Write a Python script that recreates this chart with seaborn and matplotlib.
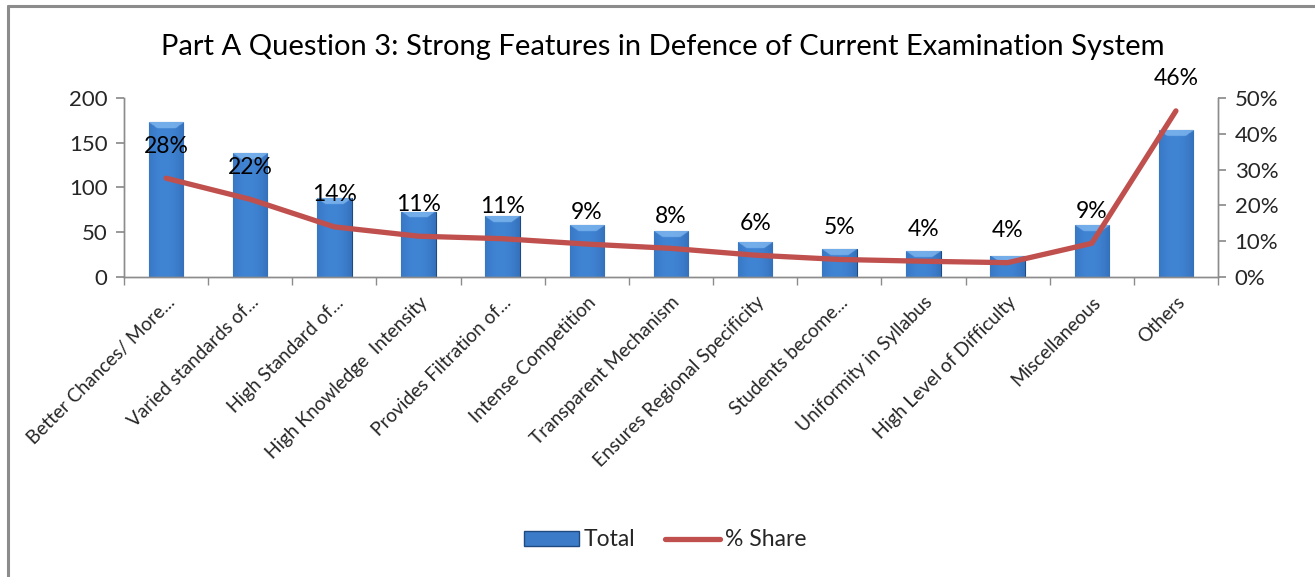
import numpy as np
import pandas as pd
import seaborn as sns
import matplotlib
matplotlib.use("Agg")
import matplotlib.pyplot as plt
from matplotlib.lines import Line2D
from matplotlib.patches import Patch
import matplotlib.ticker as mticker

categories = ["Better Chances/ More...", "Varied standards of...", "High Standard of...",
              "High Knowledge  Intensity", "Provides Filtration of...", "Intense Competition",
              "Transparent Mechanism", "Ensures Regional Specificity", "Students become...",
              "Uniformity in Syllabus", "High Level of Difficulty", "Miscellaneous", "Others"]
totals = [173, 138, 88, 73, 68, 58, 51, 39, 31, 29, 24, 58, 164]
share = [0.276, 0.217, 0.14, 0.114, 0.107, 0.092, 0.08, 0.061, 0.049, 0.044, 0.04, 0.094, 0.464]
left_ticks = [0, 50, 100, 150, 200]
right_ticks = [0, 0.1, 0.2, 0.3, 0.4, 0.5]
title = "Part A Question 3: Strong Features in Defence of Current Examination System"

sns.set_theme(style="white")
plt.rcParams['font.family'] = ['Lato', 'DejaVu Sans']

df = pd.DataFrame({"cat": categories, "total": totals, "share": share})
df["pos"] = np.arange(len(df))

W, H, DPI = 1315, 577, 100
fig = plt.figure(figsize=(W / DPI, H / DPI), dpi=DPI)
ax = fig.add_axes([124 / W, 1 - 277 / H, (1218 - 124) / W, (277 - 98) / H])

sns.barplot(data=df, x="cat", y="total", ax=ax, color="#3C7BC8", width=0.41,
            edgecolor="#1F4A80", linewidth=0.8, saturation=1, zorder=2)

# gradient / bevel look for bars
gray = "#8C8C8C"
for p, v in zip(ax.patches, totals):
    x0, y0 = p.get_x(), p.get_y()
    w, h = p.get_width(), p.get_height()
    ncol = 60
    nrow = 300
    xs = np.linspace(0, 1, ncol)
    shade = 1 - 1.6 * (xs - 0.45) ** 2
    dark = np.array([0x1C, 0x48, 0x86]) / 255
    mid = np.array([0x40, 0x84, 0xD4]) / 255
    row = dark[None, :] + (mid - dark)[None, :] * np.clip(shade, 0, 1)[:, None] ** 0.6
    img = np.repeat(row[None, :, :], nrow, axis=0)
    barpx = v * 179 / 200
    band = max(1, int(round(nrow * 6 / barpx)))
    light = np.array([0x8A, 0xC0, 0xF4]) / 255
    # trapezoid bevel at the top
    for r in range(band):
        inset = int(round((r / band) * ncol * 0.25))
        img[r, inset:ncol - inset, :] = img[r, inset:ncol - inset, :] * 0.3 + light * 0.7
    im = ax.imshow(img, extent=[x0, x0 + w, y0, y0 + h], aspect="auto",
                   origin="upper", zorder=2.5, interpolation="bilinear")
    im.set_clip_path(p)

ax.set_xlim(-0.5, len(categories) - 0.5)
ax.set_ylim(0, 200)
ax.set_yticks(left_ticks)
ax.set_xlabel("")
ax.set_ylabel("")

ax2 = ax.twinx()
sns.lineplot(x=df["pos"], y=df["share"], ax=ax2, color="#C0504D", linewidth=3.8,
             zorder=3, legend=False)
ax2.set_ylim(0, 0.5)
ax2.set_yticks(right_ticks)
ax2.yaxis.set_major_formatter(mticker.PercentFormatter(1.0, decimals=0))
ax2.set_xlim(-0.5, len(categories) - 0.5)
ax2.set_ylabel("")
ax2.set_xlabel("")

for x, s in zip(df["pos"], df["share"]):
    ax2.annotate(f"{s:.0%}", (x, s), xytext=(0, 23), textcoords="offset points",
                 ha="center", va="center", fontsize=16.5, color="black", zorder=5)

for a in (ax, ax2):
    a.spines["top"].set_visible(False)
    for side in ["left", "right", "bottom"]:
        a.spines[side].set_color(gray)
        a.spines[side].set_linewidth(1.0)
ax.tick_params(axis="y", which="major", direction="out", length=6, color=gray,
               labelsize=16, pad=6, left=True)
ax2.tick_params(axis="y", which="major", direction="out", length=6, color=gray,
                labelsize=16, pad=6, right=True)
ax.set_xticks(df["pos"])
ax.set_xticklabels(categories, rotation=45, ha="right", rotation_mode="anchor",
                   fontsize=13.7)
ax.tick_params(axis="x", which="major", length=0, pad=12)
ax.set_xticks(np.arange(-0.5, len(categories), 1.0), minor=True)
ax.tick_params(axis="x", which="minor", direction="out", length=6, color=gray, bottom=True)
ax.grid(False)
ax2.grid(False)

fig.text(663 / W, 1 - 47 / H, title, ha="center", va="center", fontsize=21, color="black")

handles = [Patch(facecolor="#3C7BC8", edgecolor="#1F4A80", label="Total"),
           Line2D([0], [0], color="#C0504D", linewidth=3.8, label="% Share")]
fig.legend(handles=handles, loc="center", bbox_to_anchor=(665 / W, 1 - 540 / H), ncol=2,
           frameon=False, fontsize=16.5, handlelength=2.4, handleheight=0.65,
           columnspacing=1.3, handletextpad=0.2)

fig.add_artist(Line2D([8 / W, 8 / W], [0, 1 - 6 / H], color="#8C8C8C", linewidth=2.2,
                      transform=fig.transFigure))
fig.add_artist(Line2D([8 / W, 1], [1 - 6 / H, 1 - 6 / H], color="#8C8C8C", linewidth=2.2,
                      transform=fig.transFigure))

fig.savefig("out.png", dpi=DPI, facecolor="white")
